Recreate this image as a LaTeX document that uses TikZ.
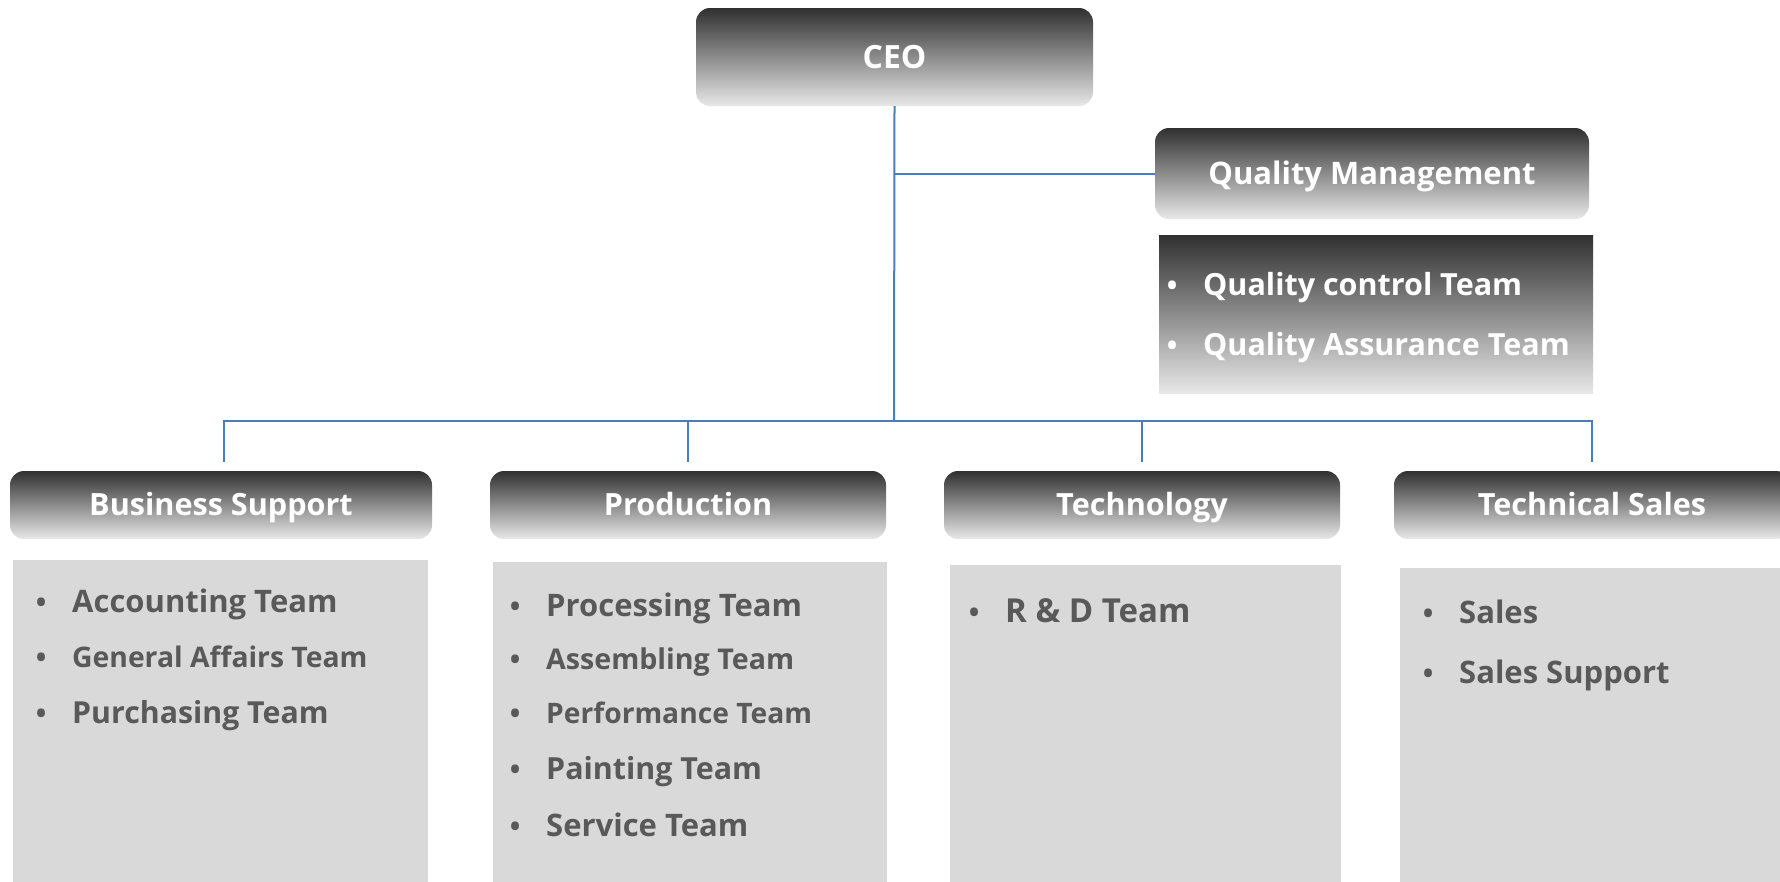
\documentclass[tikz,border=0pt]{standalone}
\usepackage{fontspec}
\setmainfont{Open Sans}
\definecolor{hdtop}{HTML}{303030}
\definecolor{hdbot}{HTML}{E8E8E8}
\definecolor{bodyfill}{HTML}{D9D9D9}
\definecolor{bodytext}{HTML}{595959}
\definecolor{linkblue}{HTML}{4A7EBB}
\newcommand{\bul}{\makebox[62pt][c]{\fontsize{28}{28}\selectfont\textbullet}}
\newcommand{\fs}[1]{\fontsize{#1}{#1}\selectfont}
\begin{document}
\begin{tikzpicture}[x=1pt,y=-1pt,
  hdr/.style={rounded corners=14pt, top color=hdtop, bottom color=hdbot, draw=none,
    text=white, font=\bfseries\fs{30.6}, inner sep=0pt, text height=21.8pt, text depth=0pt},
  bodybox/.style={rectangle, fill=bodyfill, draw=none, inner sep=0pt},
  item/.style={anchor=base west, inner sep=0pt, text=bodytext, font=\bfseries\fs{31}},
  witem/.style={item, text=white, font=\bfseries\fs{30.5}},
  conn/.style={draw=linkblue, line width=2pt}]
\useasboundingbox (0,0) rectangle (1780,881);
\fill[white] (0,0) rectangle (1780,881);

% headers
\node[hdr, minimum width=397pt, minimum height=98pt, font=\bfseries\fs{32}, text height=22.8pt] (ceo) at (894.5,57) {CEO};
\node[hdr, minimum width=434pt, minimum height=91pt, font=\bfseries\fs{31}, text height=22.1pt] (qm) at (1372,173.5) {Quality Management};
\node[rectangle, top color=hdtop, bottom color=hdbot, draw=none, minimum width=434pt, minimum height=158pt, inner sep=0pt] (qms) at (1376,314) {};
\node[hdr, minimum width=422pt, minimum height=68pt] (bs) at (221,505) {Business Support};
\node[hdr, minimum width=396pt, minimum height=68pt] (pr) at (688,505) {Production};
\node[hdr, minimum width=396pt, minimum height=68pt] (te) at (1142,505) {Technology};
\node[hdr, minimum width=396pt, minimum height=68pt] (ts) at (1592,505) {Technical Sales};

% bodies
\node[bodybox, minimum width=415pt, minimum height=340pt] (bsb) at (220.5,730) {};
\node[bodybox, minimum width=394pt, minimum height=338pt] (prb) at (690,731) {};
\node[bodybox, minimum width=391pt, minimum height=335pt] (teb) at (1145.5,732.5) {};
\node[bodybox, minimum width=386pt, minimum height=332pt] (tsb) at (1593,734) {};

% quality sub-items
\node[witem] (q1) at (1141,295) {\bul Quality control Team};
\node[witem] (q2) at (1141,355) {\bul Quality Assurance Team};

% business support items
\node[item] (b1) at (10,612) {\bul Accounting Team};
\node[item, font=\bfseries\fs{28.3}] (b2) at (10,667) {\bul General Affairs Team};
\node[item, font=\bfseries\fs{30.3}] (b3) at (10,723) {\bul Purchasing Team};

% production items
\node[item] (p1) at (484,616) {\bul Processing Team};
\node[item, font=\bfseries\fs{28.6}] (p2) at (484,669) {\bul Assembling Team};
\node[item, font=\bfseries\fs{28.2}] (p3) at (484,723) {\bul Performance Team};
\node[item, font=\bfseries\fs{30.4}] (p4) at (484,779) {\bul Painting Team};
\node[item] (p5) at (484,836) {\bul Service Team};

% technology items
\node[item, font=\bfseries\fs{33}] (t1) at (943,622) {\bul R \& D Team};

% technical sales items
\node[item] (s1) at (1397,623) {\bul Sales};
\node[item] (s2) at (1397,683) {\bul Sales Support};

% connectors
\coordinate (bus) at (894,421);
\draw[conn] (ceo.south) -- (bus);
\draw[conn] (ceo.south |- qm.west) -- (qm.west);
\draw[conn] ([xshift=3pt,yshift=9pt]bs.north) |- (ts.north |- bus) -- ([yshift=9pt]ts.north);
\draw[conn] ([yshift=9pt]pr.north) -- (pr.north |- bus);
\draw[conn] ([yshift=9pt]te.north) -- (te.north |- bus);
\end{tikzpicture}
\end{document}
